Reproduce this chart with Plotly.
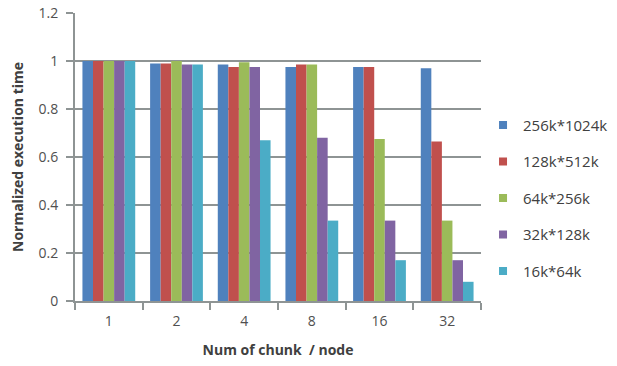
import plotly.graph_objects as go

categories = ["1", "2", "4", "8", "16", "32"]
series_names = ["256k*1024k", "128k*512k", "64k*256k", "32k*128k", "16k*64k"]
s256k = [1.0, 0.99, 0.985, 0.975, 0.975, 0.97]
s128k = [1.0, 0.99, 0.975, 0.985, 0.975, 0.665]
s64k = [1.0, 1.0, 0.995, 0.985, 0.675, 0.335]
s32k = [1.0, 0.985, 0.975, 0.68, 0.335, 0.17]
s16k = [1.0, 0.985, 0.67, 0.335, 0.17, 0.08]
colors = ["#4F81BD", "#C0504D", "#9BBB59", "#8064A2", "#4BACC6"]

fig = go.Figure()
for name, vals, c in zip(series_names, [s256k, s128k, s64k, s32k, s16k], colors):
    fig.add_trace(go.Bar(x=categories, y=vals, name=name, marker_color=c,
                         marker_line_width=0, showlegend=False))
for name, c in zip(series_names, colors):
    fig.add_trace(go.Scatter(x=[None], y=[None], mode="markers", name=name,
                             marker=dict(symbol="square", size=8, color=c),
                             legendgroup=name))

font = "Open Sans, Liberation Sans, sans-serif"
axcol = "#8E9494"
fig.update_layout(
    width=617, height=366,
    margin=dict(l=75, r=136, t=13, b=65, autoexpand=False),
    paper_bgcolor="white", plot_bgcolor="white",
    barmode="group", bargap=0.22, bargroupgap=0,
    font=dict(family=font, size=13, color="#404040"),
    legend=dict(x=1.005, y=0.357, xanchor="left", yanchor="middle",
                font=dict(size=15, color="#404040"), tracegroupgap=14,
                itemwidth=30),
    yaxis=dict(range=[0, 1.2], dtick=0.2, tickformat="~g", automargin=False,
               showgrid=True, gridcolor=axcol, gridwidth=2,
               showline=True, linecolor=axcol, linewidth=2,
               ticks="outside", ticklen=7, tickcolor=axcol, tickwidth=2,
               ticklabelstandoff=5,
               zeroline=False, mirror=False, tickfont=dict(size=14, color="#505050"),
               title=dict(text="<b>Normalized execution time</b>", font=dict(size=14, color="#404040"), standoff=12)),
    xaxis=dict(type="category", showline=True, linecolor=axcol, linewidth=2, automargin=False,
               ticks="outside", tickson="boundaries", ticklen=7, tickcolor=axcol, tickwidth=2,
               ticklabelstandoff=6,
               showgrid=False, tickfont=dict(size=14, color="#505050"),
               title=dict(text="<b>Num of chunk  / node</b>", font=dict(size=14, color="#404040"), standoff=16)),
)
fig.write_html("out.html")
